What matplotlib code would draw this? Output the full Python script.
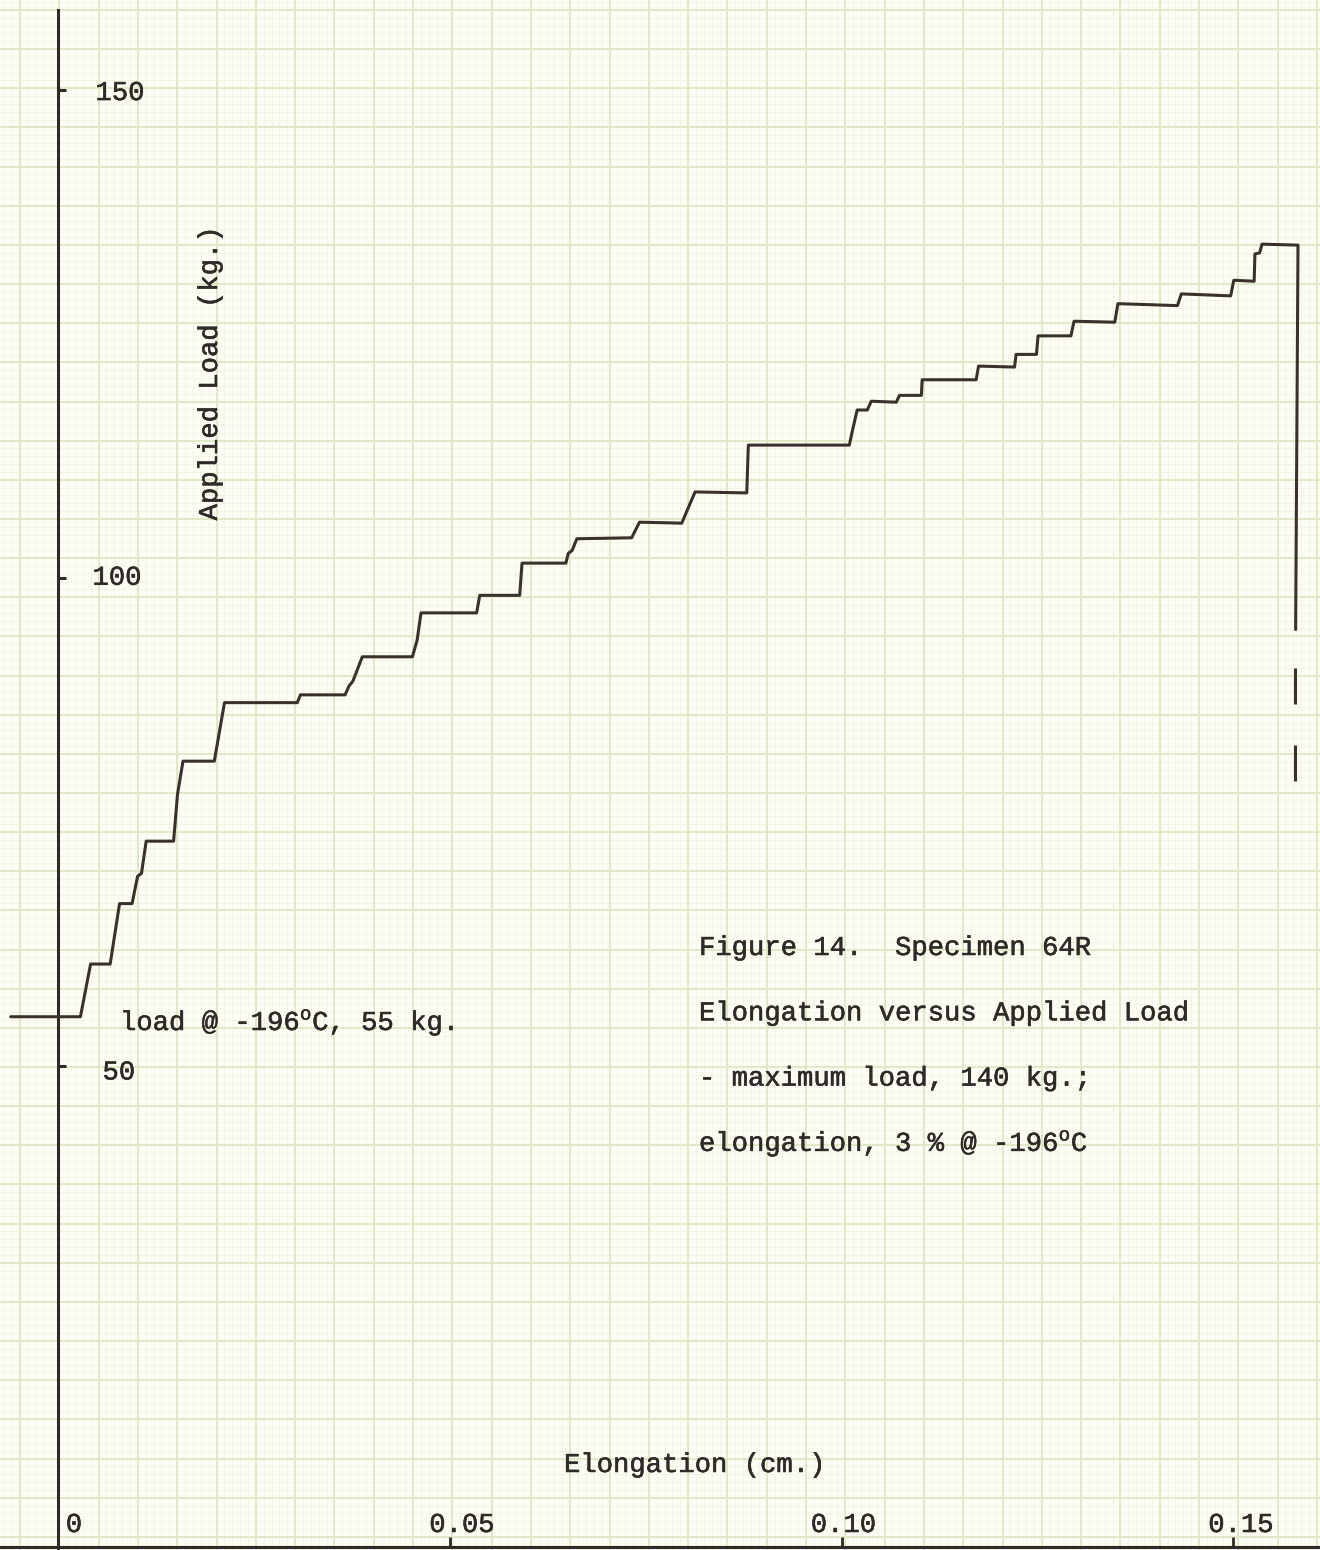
import matplotlib
matplotlib.use("Agg")
import matplotlib.pyplot as plt
import matplotlib.patheffects as pe
import matplotlib.transforms as mtransforms
import numpy as np

plt.rcParams['font.family'] = ['Liberation Mono', 'DejaVu Sans Mono']
plt.rcParams['mathtext.fontset'] = 'custom'
plt.rcParams['mathtext.tt'] = 'Liberation Mono'
plt.rcParams['mathtext.rm'] = 'Liberation Mono'

# ---- data: elongation (cm) vs applied load (kg), specimen 64R at -196 C ----
elongation_cm = [
    -0.0061, 0.0028, 0.0041, 0.0066, 0.0078, 0.0094, 0.0101, 0.0106, 0.0112,
    0.0147, 0.0152, 0.0159, 0.0199, 0.0212, 0.0305, 0.0309, 0.0366, 0.0371,
    0.0376, 0.0388, 0.0452, 0.0458, 0.0463, 0.0534, 0.0538, 0.0589, 0.0592,
    0.0648, 0.0651, 0.0656, 0.0662, 0.0732, 0.0742, 0.0796, 0.0806, 0.0813,
    0.0879, 0.0881, 0.1010, 0.1014, 0.1020, 0.1033, 0.1038, 0.1070, 0.1074,
    0.1102, 0.1103, 0.1172, 0.1175, 0.1221, 0.1223, 0.1249, 0.1251, 0.1293,
    0.1297, 0.1349, 0.1353, 0.1429, 0.1434, 0.1497, 0.1501, 0.1527, 0.1528,
    0.1534, 0.1537, 0.1583, 0.1580,
]
load_kg = [
    55.0, 55.0, 60.4, 60.4, 66.6, 66.6, 69.4, 69.7, 73.0,
    73.0, 77.8, 81.2, 81.2, 87.2, 87.2, 88.0, 88.0, 88.9,
    89.4, 91.9, 91.9, 93.6, 96.4, 96.4, 98.2, 98.2, 101.5,
    101.5, 102.5, 102.8, 104.0, 104.1, 105.7, 105.6, 107.5, 108.8,
    108.7, 113.6, 113.6, 115.1, 117.2, 117.2, 118.1, 118.0, 118.7,
    118.7, 120.3, 120.3, 121.7, 121.6, 122.9, 122.9, 124.8, 124.8,
    126.3, 126.2, 128.1, 127.9, 129.1, 128.9, 130.5, 130.4, 133.2,
    133.3, 134.2, 134.1, 94.7,
]
# broken continuation of the fracture drop
fracture_x = 0.1579
fracture_dashes = [(90.8, 87.1), (82.9, 79.2)]

y_ticks = [50, 100, 150]
y_tick_labels = ['50', '100', '150']
x_ticks = [0.0, 0.05, 0.10, 0.15]
x_tick_labels = ['0', '0.05', '0.10', '0.15']

x_label = 'Elongation (cm.)'
y_label = 'Applied Load (kg.)'
start_note = r'load @ -196$^{\mathtt{o}}$C, 55 kg.'
caption_lines = [
    'Figure 14.  Specimen 64R',
    'Elongation versus Applied Load',
    '- maximum load, 140 kg.;',
    r'elongation, 3 % @ -196$^{\mathtt{o}}$C',
]

# ---- styling ----
W, H = 1320, 1550
paper = '#fdfdf6'
minor_c = '#f1f4e3'
major_c = '#dfe8c2'
ink = '#2f2a28'
trace = '#3a312d'
fs = 19.6
thick = [pe.withStroke(linewidth=0.4, foreground=ink)]

fig = plt.figure(figsize=(W / 100, H / 100), dpi=100, facecolor=paper)

# graph paper background (pixel coordinates)
bg = fig.add_axes([0, 0, 1, 1], zorder=0)
bg.set_xlim(0, W)
bg.set_ylim(H, 0)
bg.axis('off')
bg.set_facecolor(paper)
step_x, x0 = 39.3, 20.0
step_y, y0 = 39.15, 10.0
xs_minor = np.arange(x0 - step_x, W + step_x, step_x / 5)
ys_minor = np.arange(y0 - step_y, H + step_y, step_y / 5)
xs_major = np.arange(x0 - step_x, W + step_x, step_x)
ys_major = np.arange(y0 - step_y, H + step_y, step_y)
bg.vlines(xs_minor, 0, H, colors=minor_c, lw=0.6)
bg.hlines(ys_minor, 0, W, colors=minor_c, lw=0.6)
bg.vlines(xs_major, 0, H, colors=major_c, lw=1.3)
bg.hlines(ys_major, 0, W, colors=major_c, lw=1.3)

# data axes
ax = fig.add_axes([0, 0, 1, 1], zorder=1)
ax.patch.set_alpha(0)
ax.set_xlim(-0.00747, 0.16111)
ax.set_ylim(0.333, 159.23)
for s in ('top', 'right'):
    ax.spines[s].set_visible(False)
ax.spines['left'].set_position(('data', 0))
ax.spines['left'].set_bounds(0.333, 158.2)
ax.spines['bottom'].set_position(('axes', 0.002))
for s in ('left', 'bottom'):
    ax.spines[s].set_color(ink)
    ax.spines[s].set_linewidth(2.2)

ax.set_yticks(y_ticks)
ax.set_xticks(x_ticks[1:])
ax.tick_params(axis='y', direction='in', length=6, width=2.2, color=ink,
               labelleft=False)
ax.tick_params(axis='x', direction='in', length=7, width=2.0, color=ink,
               labelbottom=False)

# tick labels set beside the ticks, typewriter style
y_offsets = {150: (37, -10), 100: (34, -7), 50: (44, -14)}
for v, lab in zip(y_ticks, y_tick_labels):
    ax.annotate(lab, xy=(0, v), xytext=y_offsets[v], textcoords='offset pixels',
                ha='left', va='baseline', fontsize=fs, color=ink,
                path_effects=thick)
x_offsets = [15.5, 12, 2, 8]
xtrans = mtransforms.blended_transform_factory(ax.transData, ax.transAxes)
for v, lab, dx in zip(x_ticks, x_tick_labels, x_offsets):
    ax.annotate(lab, xy=(v, 0), xycoords=xtrans, xytext=(dx, 18),
                textcoords='offset pixels', ha='center', va='baseline',
                fontsize=fs, color=ink, path_effects=thick)

# load trace
ax.plot(elongation_cm, load_kg, color=trace, lw=2.2, solid_joinstyle='round',
        solid_capstyle='round', zorder=3)
for top, bot in fracture_dashes:
    ax.plot([fracture_x, fracture_x], [top, bot], color=trace, lw=2.2,
            solid_capstyle='butt', zorder=3)

# labels and caption (pixel placement on the sheet)
bg.text(210, 373, y_label, rotation=90, ha='center', va='center',
        fontsize=fs, color=ink, path_effects=thick)
bg.text(695, 1472, x_label, ha='center', va='baseline', fontsize=fs,
        color=ink, path_effects=thick)
bg.text(120, 1030, start_note, ha='left', va='baseline', fontsize=fs,
        color=ink, path_effects=thick)
for i, line in enumerate(caption_lines):
    bg.text(699, 955 + 65.3 * i, line, ha='left', va='baseline', fontsize=fs,
            color=ink, path_effects=thick)

fig.savefig('out.png', dpi=100, facecolor=paper)
